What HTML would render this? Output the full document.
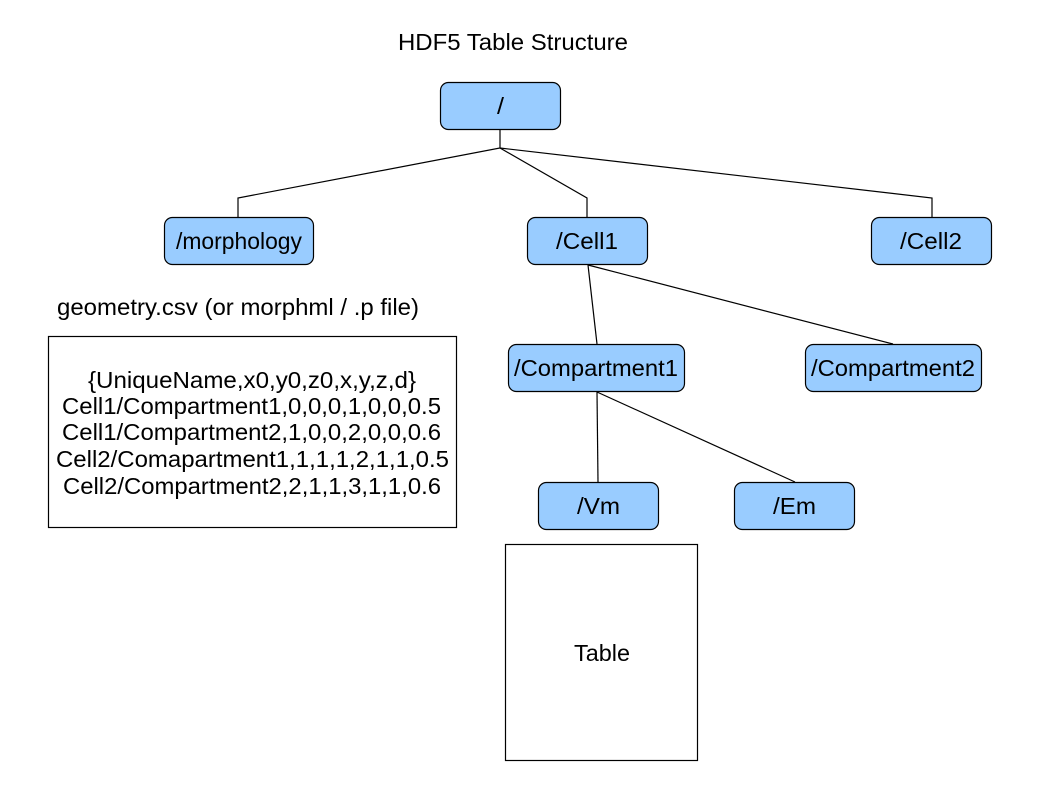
<!DOCTYPE html>
<html><head><style>
body{margin:0;background:#fff;}
svg text{font-family:"Liberation Sans",Arial,sans-serif;fill:#000;}
</style></head><body>
<svg width="1058" height="794" xmlns="http://www.w3.org/2000/svg">
<g fill="none" stroke="#000" stroke-width="1.2">
<polyline points="500,129 500,148 238,198 238,217"/>
<polyline points="500,148 587,198 587,217"/>
<polyline points="500,148 932,198 932,217"/>
<line x1="588" y1="265" x2="597" y2="344"/>
<line x1="588" y1="265" x2="893" y2="344"/>
<line x1="597" y1="392" x2="598" y2="482"/>
<line x1="597" y1="392" x2="795" y2="482"/>
</g>
<g fill="#99ccff" stroke="#000" stroke-width="1.2">
<rect x="440.5" y="82.5" width="120" height="47" rx="8"/>
<rect x="164.5" y="217.5" width="149" height="47" rx="8"/>
<rect x="527.5" y="217.5" width="120" height="47" rx="8"/>
<rect x="871.5" y="217.5" width="120" height="47" rx="8"/>
<rect x="508.5" y="344.5" width="176" height="47" rx="8"/>
<rect x="805.5" y="344.5" width="176" height="47" rx="8"/>
<rect x="538.5" y="482.5" width="120" height="47" rx="8"/>
<rect x="734.5" y="482.5" width="120" height="47" rx="8"/>
</g>
<g fill="#fff" stroke="#000" stroke-width="1.2">
<rect x="48.5" y="336.5" width="408" height="191"/>
<rect x="505.5" y="544.5" width="192" height="216"/>
</g>
<g font-size="23" lengthAdjust="spacingAndGlyphs">
<text x="497" y="114" textLength="7" lengthAdjust="spacingAndGlyphs">/</text>
<text x="176" y="249" textLength="126" lengthAdjust="spacingAndGlyphs">/morphology</text>
<text x="556" y="249" textLength="62" lengthAdjust="spacingAndGlyphs">/Cell1</text>
<text x="900" y="249" textLength="62" lengthAdjust="spacingAndGlyphs">/Cell2</text>
<text x="514" y="376" textLength="164" lengthAdjust="spacingAndGlyphs">/Compartment1</text>
<text x="811" y="376" textLength="164" lengthAdjust="spacingAndGlyphs">/Compartment2</text>
<text x="577" y="514" textLength="43" lengthAdjust="spacingAndGlyphs">/Vm</text>
<text x="773" y="514" textLength="43" lengthAdjust="spacingAndGlyphs">/Em</text>
<text x="574" y="661" textLength="56" lengthAdjust="spacingAndGlyphs">Table</text>
<text x="88" y="388" textLength="328" lengthAdjust="spacingAndGlyphs">{UniqueName,x0,y0,z0,x,y,z,d}</text>
<text x="62" y="414" textLength="379" lengthAdjust="spacingAndGlyphs">Cell1/Compartment1,0,0,0,1,0,0,0.5</text>
<text x="62" y="440" textLength="379" lengthAdjust="spacingAndGlyphs">Cell1/Compartment2,1,0,0,2,0,0,0.6</text>
<text x="56" y="467" textLength="393" lengthAdjust="spacingAndGlyphs">Cell2/Comapartment1,1,1,1,2,1,1,0.5</text>
<text x="63" y="494" textLength="378" lengthAdjust="spacingAndGlyphs">Cell2/Compartment2,2,1,1,3,1,1,0.6</text>
<text x="398" y="50" textLength="230" lengthAdjust="spacingAndGlyphs">HDF5 Table Structure</text>
<text x="57" y="315" textLength="362" lengthAdjust="spacingAndGlyphs">geometry.csv (or morphml / .p file)</text>
</g>
</svg>
</body></html>
